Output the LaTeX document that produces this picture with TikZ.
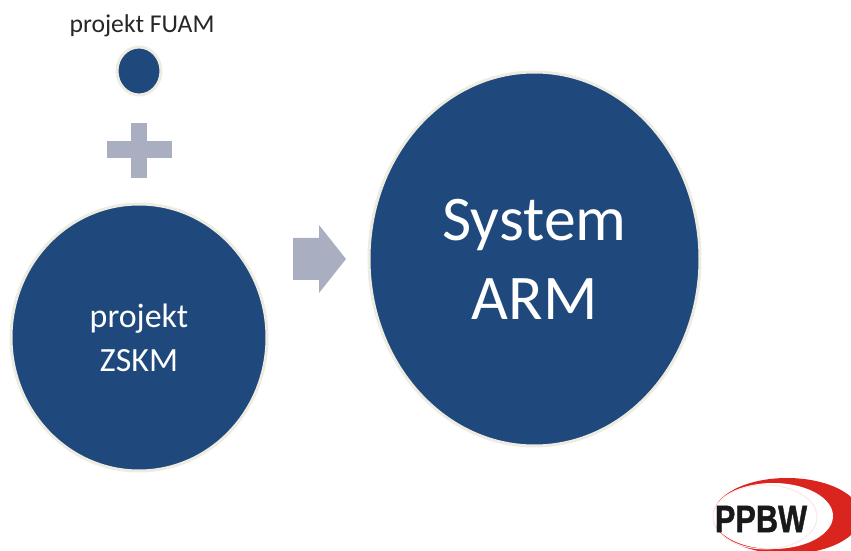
\documentclass[tikz,border=0pt]{standalone}
\usepackage{fontspec}
\setmainfont{Carlito}
\newfontfamily\logofont[BoldFeatures={FakeBold=1.2}]{Liberation Sans}
\usepackage{xcolor}
\usetikzlibrary{shapes.geometric}
\definecolor{circleblue}{HTML}{1F497D}
\definecolor{circleedge}{HTML}{EEECE1}
\definecolor{signgray}{HTML}{A9AFC1}
\definecolor{logored}{HTML}{D9251D}
\tikzset{
  circlenode/.style={ellipse, fill=circleblue, draw=circleedge, line width=0.6mm, inner sep=0pt, outer sep=0pt, text=white, align=center},
  signbar/.style={rectangle, fill=signgray, inner sep=0pt, outer sep=0pt}
}

\begin{document}
\begin{tikzpicture}
    \useasboundingbox (0,0) rectangle (17.02,11.02);
    \clip (0,0) rectangle (17.02,11.02);

    % Kola
    \node[circlenode, minimum width=0.88cm, minimum height=0.96cm] (fuam) at (2.78,9.60) {};
    \node[circlenode, minimum width=5.12cm, minimum height=5.34cm, font=\fontsize{19.3}{25}\selectfont] (zskm) at (2.78,4.27) {projekt\\ZSKM};
    \node[circlenode, minimum width=6.62cm, minimum height=7.48cm, font=\fontsize{36.2}{45}\selectfont] (arm) at (10.69,5.84) {System\\ARM};

    % Opis
    \node[text=black!85, font=\fontsize{14.6}{18}\selectfont, above=0.07cm, xshift=0.06cm] (fuamlabel) at (fuam.north) {projekt FUAM};

    % Plus
    \node[signbar, minimum width=1.30cm, minimum height=0.34cm] (plush) at (2.79,8.02) {};
    \node[signbar, minimum width=0.32cm, minimum height=1.10cm] (plusv) at (2.78,8.01) {};

    % Strzalka
    \fill[signgray] (5.86,6.26) -- (6.38,6.26) -- (6.38,6.52) -- (6.92,5.84) -- (6.38,5.16) -- (6.38,5.42) -- (5.86,5.42) -- cycle;

    % Logo
    \fill[logored] (15.74,0.70) ellipse (1.48cm and 0.76cm);
    \fill[white] (15.46,0.70) ellipse (1.20cm and 0.66cm);
    \draw[red!10, line width=0.2mm] (15.30,0.68) ellipse (1.04cm and 0.64cm);
    \node[font=\logofont\bfseries\fontsize{17.5}{20}\selectfont, text=black!90, inner sep=0pt, yscale=1.25] (logo) at (15.22,0.64) {PPBW};
\end{tikzpicture}
\end{document}
